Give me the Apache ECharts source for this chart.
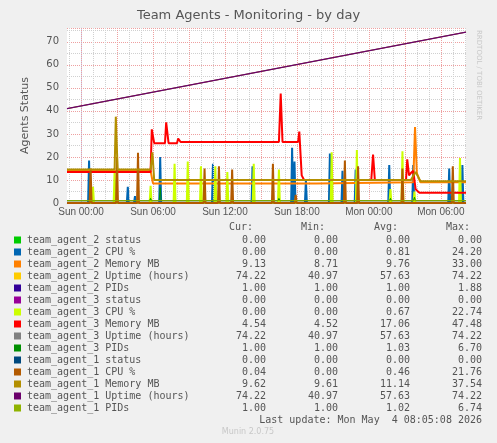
<!DOCTYPE html>
<html>
<head>
<meta charset="utf-8">
<script src="https://cdn.jsdelivr.net/npm/echarts@6/dist/echarts.min.js"></script>
<style>html,body{margin:0;padding:0;background:#f0f0f0}#chart{width:497px;height:443px}</style>
</head>
<body>
<div id="chart"></div>
<script>
// time in hours from Sun 00:00
var tStart = -1.17, tEnd = 32.1;
var tickHours = [0, 6, 12, 18, 24, 30];
var tickLabels = ['Sun 00:00', 'Sun 06:00', 'Sun 12:00', 'Sun 18:00', 'Mon 00:00', 'Mon 06:00'];

var names = ['team_agent_2 status', 'team_agent_2 CPU %', 'team_agent_2 Memory MB', 'team_agent_2 Uptime (hours)', 'team_agent_2 PIDs',
  'team_agent_3 status', 'team_agent_3 CPU %', 'team_agent_3 Memory MB', 'team_agent_3 Uptime (hours)', 'team_agent_3 PIDs',
  'team_agent_1 status', 'team_agent_1 CPU %', 'team_agent_1 Memory MB', 'team_agent_1 Uptime (hours)', 'team_agent_1 PIDs'];
var colors = ['#00cc00', '#0066b3', '#ff8000', '#ffcc00', '#330099', '#990099', '#ccff00', '#ff0000', '#808080', '#008f00',
  '#00487d', '#b35a00', '#b38f00', '#6b006b', '#8fb300'];
var cur = ['0.00', '0.00', '9.13', '74.22', '1.00', '0.00', '0.00', '4.54', '74.22', '1.00', '0.00', '0.04', '9.62', '74.22', '1.00'];
var mins = ['0.00', '0.00', '8.71', '40.97', '1.00', '0.00', '0.00', '4.52', '40.97', '1.00', '0.00', '0.00', '9.61', '40.97', '1.00'];
var avgs = ['0.00', '0.81', '9.76', '57.63', '1.00', '0.00', '0.67', '17.06', '57.63', '1.03', '0.00', '0.46', '11.14', '57.63', '1.02'];
var maxs = ['0.00', '24.20', '33.00', '74.22', '1.88', '0.00', '22.74', '47.48', '74.22', '6.70', '0.00', '21.76', '37.54', '74.22', '6.74'];

// spikes: [hour, peak]
var cpu2 = [[0.67, 18.5], [3.9, 7], [4.5, 3], [6.6, 20], [11, 17], [14.3, 16], [17.6, 24], [17.8, 18], [18.75, 10], [20.75, 21.5],
  [21.8, 14], [22.9, 14.5], [25.7, 16.5], [27.7, 16.5], [30.7, 15], [31.8, 16.5]];
var cpu3 = [[1, 7], [2.8, 14], [5.8, 7.5], [7.8, 17], [8.9, 18], [10, 16], [11.2, 16], [12.2, 13.5], [14.4, 17], [16.5, 14.5],
  [20.9, 22], [23, 23], [25.8, 6], [26.8, 22.5], [27.8, 5], [31.6, 19.5]];
var cpu1 = [[0.8, 15], [3, 20], [4.75, 21.8], [10.3, 15], [11.5, 16], [12.6, 14.5], [16, 17], [17.9, 3.5], [22, 18.5], [23.1, 16],
  [26.8, 15], [31, 16]];
var pids3 = [[5.8, 2], [6.6, 6.7], [16.5, 2], [25.8, 2], [27.8, 2.5]];

// step lines: [hour, value]
var mem3 = [[-1.17, 13.5], [5.8, 13.5], [5.9, 32], [6.1, 26], [7.0, 26], [7.1, 35], [7.3, 26], [8.0, 26], [8.1, 28], [8.3, 26.5],
  [16.5, 26.5], [16.65, 47.5], [16.8, 26.5], [18.1, 26.5], [18.2, 31], [18.4, 12], [18.6, 10], [24.2, 10], [24.35, 21], [24.5, 10],
  [27.1, 10], [27.2, 19], [27.35, 12], [27.5, 13], [27.7, 14], [27.9, 6], [28.2, 4.5], [32.1, 4.5]];
var mem1 = [[-1.17, 14.5], [2.8, 14.5], [2.9, 37.5], [3.05, 14.5], [5.8, 14.5], [5.95, 22], [6.1, 10], [27.5, 10], [27.9, 13.5],
  [28.3, 9.5], [32.1, 9.5]];
var mem2 = [[-1.17, 14], [5.8, 14], [6.0, 8.5], [19.6, 8.5], [19.7, 9], [27.7, 9], [27.85, 33], [28.0, 13], [28.3, 9], [32.1, 9]];
var uptime = [[-1.17, 40.97], [32.1, 74.22]];
var flat1 = [[-1.17, 1], [32.1, 1]];
var flat0 = [[-1.17, 0], [32.1, 0]];

function spikesOn(list, base) {
  var d = [[tStart, base]];
  list.forEach(function (s) { d.push([s[0] - 0.08, base], [s[0], s[1]], [s[0] + 0.08, base]); });
  d.push([tEnd, base]);
  return d;
}

var seriesData = [flat0, spikesOn(cpu2, 0), mem2, uptime, flat1, flat0, spikesOn(cpu3, 0), mem3, uptime, spikesOn(pids3, 1),
  flat0, spikesOn(cpu1, 0), mem1, uptime, flat1];
var widths = [1, 2, 2, 1, 1, 1, 2, 2, 1, 1, 1, 2, 2, 1.2, 1];

// vertical grid: one markLine series for hourly grey lines, one for 3-hourly red lines
var minorLines = [], majorLines = [];
for (var h = -1; h <= 32; h++) {
  if (h % 3 === 0) {
    var idx = tickHours.indexOf(h);
    majorLines.push({
      xAxis: h,
      label: idx >= 0 ? { show: true, formatter: tickLabels[idx] } : { show: false }
    });
  } else {
    minorLines.push({ xAxis: h });
  }
}

var series = seriesData.map(function (d, i) {
  return {
    name: names[i], type: 'line', data: d, showSymbol: false, silent: true, animation: false,
    lineStyle: { color: colors[i], width: widths[i] }, z: 3 + i
  };
});
series.unshift({
  type: 'line', data: [[tStart, 0]], showSymbol: false, silent: true, z: 1, lineStyle: { width: 0 },
  markLine: { symbol: 'none', silent: true, animation: false, data: minorLines,
    lineStyle: { color: '#d0d0d0', type: 'dotted', width: 1 }, label: { show: false } }
}, {
  type: 'line', data: [[tStart, 0]], showSymbol: false, silent: true, z: 2, lineStyle: { width: 0 },
  markLine: { symbol: 'none', silent: true, animation: false, data: majorLines,
    lineStyle: { color: '#eea0a0', type: 'dotted', width: 1 },
    label: { position: 'start', color: '#555', fontSize: 10, distance: 4 } }
});

var legend = [];
var y0 = 240, dy = 12;
var hdr = [['Cur:', 253], ['Min:', 325], ['Avg:', 398], ['Max:', 470]];
hdr.forEach(function (hh) {
  legend.push({ type: 'text', x: hh[1], y: 227, style: { text: hh[0], font: '10px "DejaVu Sans Mono"', fill: '#555', align: 'right', verticalAlign: 'middle' } });
});
names.forEach(function (n, i) {
  var y = y0 + i * dy;
  legend.push({ type: 'rect', shape: { x: 14, y: y - 3.5, width: 7, height: 7 }, style: { fill: colors[i] } });
  legend.push({ type: 'text', x: 27, y: y, style: { text: n, font: '10px "DejaVu Sans Mono"', fill: '#555', verticalAlign: 'middle' } });
  [[cur, 266], [mins, 338], [avgs, 410], [maxs, 482]].forEach(function (c) {
    legend.push({ type: 'text', x: c[1], y: y, style: { text: c[0][i], font: '10px "DejaVu Sans Mono"', fill: '#555', align: 'right', verticalAlign: 'middle' } });
  });
});
legend.push({ type: 'text', x: 482, y: 420, style: { text: 'Last update: Mon May  4 08:05:08 2026', font: '10px "DejaVu Sans Mono"', fill: '#555', align: 'right', verticalAlign: 'middle' } });
legend.push({ type: 'text', x: 248, y: 432, style: { text: 'Munin 2.0.75', font: '8px "DejaVu Sans"', fill: '#c8c8c8', align: 'center', verticalAlign: 'middle' } });
legend.push({ type: 'text', x: 482, y: 30, rotation: -Math.PI / 2, style: { text: 'RRDTOOL / TOBI OETIKER', font: '7px "DejaVu Sans"', fill: '#c8c8c8' } });

var chart = echarts.init(document.getElementById('chart'));
chart.setOption({
  backgroundColor: '#f0f0f0',
  animation: false,
  title: { text: 'Team Agents - Monitoring - by day', left: 'center', top: 4, textStyle: { fontFamily: 'DejaVu Sans', fontSize: 13, fontWeight: 'normal', color: '#555' } },
  grid: { left: 67, right: 31, top: 28, bottom: 240, backgroundColor: '#fff', show: true, borderWidth: 0 },
  xAxis: {
    type: 'value', min: tStart, max: tEnd,
    axisLine: { lineStyle: { color: '#ccd4f0' } }, axisTick: { show: false }, axisLabel: { show: false }, splitLine: { show: false }
  },
  yAxis: {
    type: 'value', min: 0, max: 76, interval: 10,
    name: 'Agents Status', nameLocation: 'middle', nameGap: 36, nameRotate: 90,
    nameTextStyle: { color: '#555', fontSize: 11, fontFamily: 'DejaVu Sans' },
    axisLine: { show: true, lineStyle: { color: '#ccd4f0' } }, axisTick: { show: false },
    axisLabel: { color: '#555', fontSize: 10, fontFamily: 'DejaVu Sans', showMaxLabel: false },
    splitLine: { lineStyle: { color: '#eea0a0', type: 'dotted' } },
    minorTick: { show: false, splitNumber: 2 },
    minorSplitLine: { show: true, lineStyle: { color: '#d0d0d0', type: 'dotted' } }
  },
  series: series,
  graphic: legend
});
</script>
</body>
</html>
